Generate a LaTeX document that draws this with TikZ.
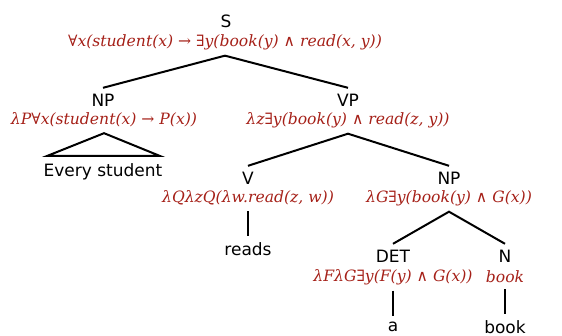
\documentclass[tikz,border=0pt]{standalone}
\usepackage{fontspec}
\setmainfont{DejaVu Sans}
\newfontfamily\semfont{DejaVu Serif}
\definecolor{semred}{RGB}{165,32,24}
\tikzset{
  cat/.style={inner sep=1pt, outer ysep=5pt, font=\fontsize{17}{20}\selectfont},
  sem/.style={inner sep=1pt, outer ysep=5pt, text=semred, font=\semfont\itshape\fontsize{15.6}{19}\selectfont},
  branch/.style={line width=2pt, black}
}

\begin{document}
\begin{tikzpicture}[x=1pt, y=-1pt]
    \useasboundingbox (0,0) rectangle (562,336);

    % S
    \node[cat] (s) at (226,21) {S};
    \node[sem] (s-sem) at (225,42) {∀x(student(x) → ∃y(book(y) ∧ read(x, y))};

    % NP (subject)
    \node[cat] (np) at (103,100) {NP};
    \node[sem] (np-sem) at (104,120) {λP∀x(student(x) → P(x))};
    \node[cat] (every) at (103,172) {Every student};
    \coordinate (tri-l) at (47,156);
    \coordinate (tri-r) at (160,156);

    % VP
    \node[cat] (vp) at (348,100) {VP};
    \node[sem] (vp-sem) at (348,120) {λz∃y(book(y) ∧ read(z, y))};

    % V
    \node[cat] (v) at (248,178) {V};
    \node[sem] (v-sem) at (248,198) {λQλzQ(λw.read(z, w))};
    \node[cat] (reads) at (248,249) {reads};

    % NP (object)
    \node[cat] (np2) at (449,178) {NP};
    \node[sem] (np2-sem) at (449,198) {λG∃y(book(y) ∧ G(x))};

    % DET
    \node[cat] (det) at (393,256) {DET};
    \node[sem] (det-sem) at (393,277) {λFλG∃y(F(y) ∧ G(x))};
    \node[cat] (a) at (393,327) {a};

    % N
    \node[cat] (n) at (505,256) {N};
    \node[sem] (n-sem) at (505,277) {book};
    \node[cat] (book) at (505,327) {book};

    % branches
    \draw[branch] (np.north) -- (s-sem.south) -- (vp.north);
    \draw[branch] (tri-l) -- (np-sem.south) -- (tri-r) -- cycle;
    \draw[branch] (v.north) -- (vp-sem.south) -- (np2.north);
    \draw[branch] (v-sem.south) -- (reads.north);
    \draw[branch] (det.north) -- (np2-sem.south) -- (n.north);
    \draw[branch] (det-sem.south) -- (a.north);
    \draw[branch] (n-sem.south) -- (book.north);
\end{tikzpicture}
\end{document}
